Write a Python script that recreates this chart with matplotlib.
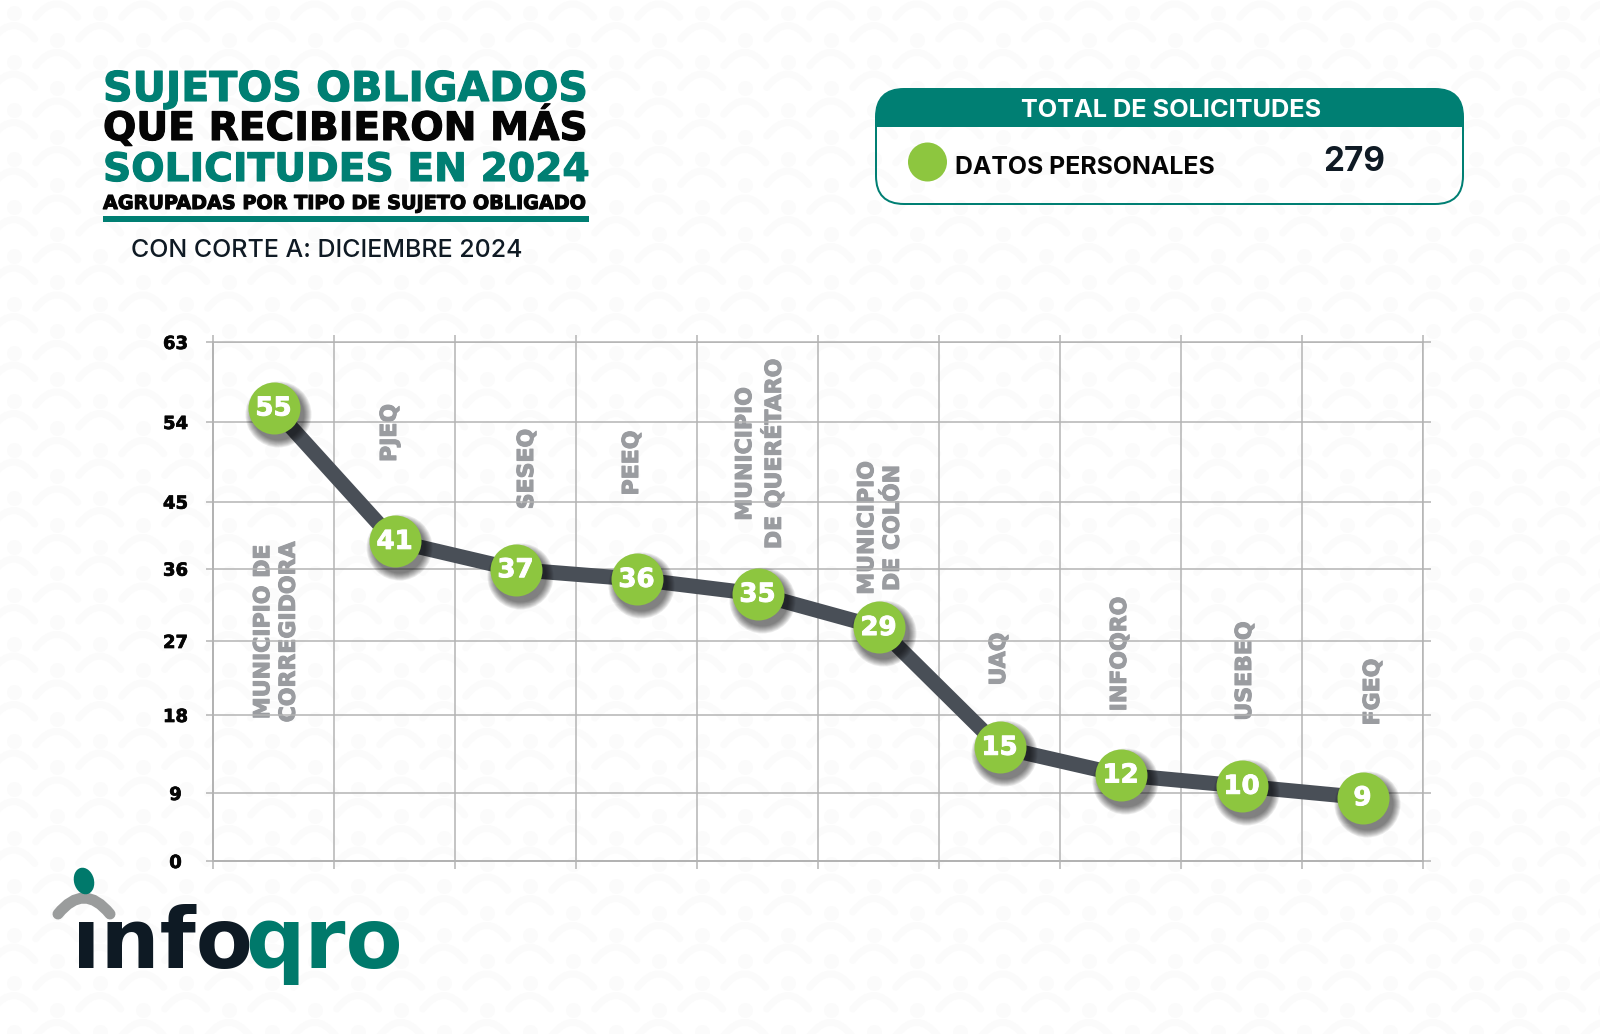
import numpy as np
import matplotlib
matplotlib.use('Agg')
import matplotlib.pyplot as plt
import matplotlib.patheffects as pe
from matplotlib.patches import FancyBboxPatch, Rectangle, Ellipse, PathPatch
from matplotlib.path import Path
from matplotlib.transforms import ScaledTranslation

# datos
categorias = ['MUNICIPIO DE\nCORREGIDORA', 'PJEQ', 'SESEQ', 'PEEQ', 'MUNICIPIO\nDE QUERÉTARO',
              'MUNICIPIO\nDE COLÓN', 'UAQ', 'INFOQRO', 'USEBEQ', 'FGEQ']
valores = [55, 41, 37, 36, 35, 29, 15, 12, 10, 9]
# altura de cada punto leida sobre el eje de la imagen (no coincide del todo con la etiqueta)
alturas = [55.6, 39.7, 35.9, 34.7, 32.85, 28.7, 14.3, 11.1, 9.8, 8.4]
y_ticks = [0, 9, 18, 27, 36, 45, 54, 63]
total = 279

TEAL = '#007f73'
INK = '#0f1a24'
GREEN = '#8dc63f'
LINE = '#494f57'
GRID = '#b3b3b3'
LABEL = '#9a9ca0'
FONT = 'Inter'
BOLD = 'DejaVu Sans'
W, H = 1600, 1034

fig = plt.figure(figsize=(W / 100, H / 100), dpi=100, facecolor='white')
px = 0.72  # puntos por pixel

# capa de fondo en pixeles
bg = fig.add_axes([0, 0, 1, 1], zorder=0)
bg.set_xlim(0, W)
bg.set_ylim(H, 0)
bg.axis('off')

# patron de arcos y puntos
verts, codes, dx, dy = [], [], [], []
for k in range(-1, 39):
    x = 13.7 + 43 * k
    for n in range(-1, 23):
        y = 25 + 48.5 * n - (21.7 if k % 2 else 0)
        verts += [(x - 21, y + 14), (x, y - 13), (x + 21, y + 14)]
        codes += [Path.MOVETO, Path.CURVE3, Path.CURVE3]
        dx.append(x)
        dy.append(y - 12)
bg.add_patch(PathPatch(Path(verts, codes), fc='none', ec='#fbfbfb', lw=7 * px, capstyle='round'))
bg.scatter(dx, dy, s=(15 * px) ** 2, c='#fbfbfb', lw=0)

# titulo
fig.canvas.draw()
rend = fig.canvas.get_renderer()


def ajustar(t, ancho):
    t.set_fontsize(t.get_fontsize() * ancho / t.get_window_extent(rend).width)


for s, col, y, w in [('SUJETOS OBLIGADOS', TEAL, 101, 485),
                     ('QUE RECIBIERON MÁS', '#050505', 140, 485),
                     ('SOLICITUDES EN 2024', TEAL, 181, 487),
                     ('AGRUPADAS POR TIPO DE SUJETO OBLIGADO', '#050505', 209, 483)]:
    t = bg.text(103, y, s, color=col, family=BOLD, weight='bold', fontsize=28)
    ajustar(t, w)
    t.set_path_effects([pe.withStroke(linewidth=0.8, foreground=col)])
bg.add_patch(Rectangle((103, 216), 486, 6, fc=TEAL, ec='none'))
ajustar(bg.text(131, 257, 'CON CORTE A: DICIEMBRE 2024', color=INK, family=FONT, weight='medium', fontsize=16), 391)

# recuadro del total
caja = FancyBboxPatch((876, 89), 587, 115, boxstyle='round,pad=0,rounding_size=28',
                      fc='none', ec=TEAL, lw=2 * px)
bg.add_patch(caja)
banda = Rectangle((876, 89), 587, 37.5, fc=TEAL, ec='none')
bg.add_patch(banda)
banda.set_clip_path(caja)
ajustar(bg.text(1171, 117, 'TOTAL DE SOLICITUDES', color='white', family=FONT, weight='bold',
                fontsize=15, ha='center'), 301)
bg.add_patch(Ellipse((927.5, 162), 39, 39, fc=GREEN, ec='none'))
ajustar(bg.text(955, 174, 'DATOS PERSONALES', color='#050505', family=FONT, weight='bold', fontsize=15), 260)
ajustar(bg.text(1323, 171, str(total), color=INK, family=FONT, weight='bold', fontsize=22), 62)

# logo
bg.text(72, 968, 'ınfo', color='#0e1a24', family='DejaVu Sans', weight='bold', fontsize=83 * px)
bg.text(245, 968, 'qro', color='#00796b', family='DejaVu Sans', weight='bold', fontsize=83 * px)
bg.add_patch(PathPatch(Path([(58, 914), (84, 882), (110, 914)], [Path.MOVETO, Path.CURVE3, Path.CURVE3]),
                       fc='none', ec='#9a9c9c', lw=11 * px, capstyle='round'))
bg.add_patch(Ellipse((84, 881), 20, 27, angle=-15, fc='#00796b', ec='none'))

# grafica
ax = fig.add_axes([213 / W, 1 - 861 / H, 1210 / W, 519 / H], zorder=1)
ax.patch.set_alpha(0)

# el eje de la imagen no es lineal, las lineas guia van desiguales
pos_ticks = np.array([0, 68, 146, 220, 292.3, 359.3, 439, 519]) / 519


def fwd(v):
    return np.interp(v, y_ticks, pos_ticks)


def inv(v):
    return np.interp(v, pos_ticks, y_ticks)


ax.set_yscale('function', functions=(fwd, inv))
ax.set_xlim(0, 10)
ax.set_ylim(0, 63)
ax.set_xticks(range(11))
ax.set_yticks(y_ticks)
ax.minorticks_off()
ax.grid(True, color=GRID, lw=1.5 * px)
ax.set_axisbelow(True)
ax.tick_params(length=7.5 * px, width=1.5 * px, color=GRID, top=True, right=True, labelbottom=False)
ax.tick_params(axis='y', pad=30 * px)
for l in ax.get_yticklabels():
    l.set_ha('center')
    l.set_family(BOLD)
    l.set_weight('bold')
    l.set_fontsize(18 * px)
    l.set_color('#050505')
    l.set_path_effects([pe.withStroke(linewidth=0.5, foreground='#050505')])
for name, sp in ax.spines.items():
    sp.set_color(GRID)
    sp.set_linewidth((2 if name in ('left', 'bottom') else 1.5) * px)

x = np.arange(len(valores)) + 0.5

# sombra y linea
sombra = ax.transData + ScaledTranslation(4 / 100, -6 / 100, fig.dpi_scale_trans)
ax.plot(x, alturas, color=LINE, lw=15 * px, solid_capstyle='butt', zorder=3)
for r in [33, 32, 31, 30, 29, 28, 27, 26]:
    ax.plot(x, alturas, ls='', marker='o', ms=2 * r * px, mfc='black', mec='none', alpha=0.08,
            transform=sombra, zorder=4, clip_on=False)
ax.plot(x, alturas, ls='', marker='o', ms=52 * px, mfc=GREEN, mec='none', zorder=5, clip_on=False)
for xi, yi, v in zip(x, alturas, valores):
    t = ax.annotate(str(v), (xi, yi), xytext=(0, -0.5), textcoords='offset points', ha='center', va='center',
                    color='white', family=BOLD, weight='bold', fontsize=26 * px, zorder=6)
    t.set_path_effects([pe.withStroke(linewidth=0.7, foreground='white')])

# categorias giradas, colocadas donde estan en la imagen
lab_x = [276, 390, 527, 632, 760, 880, 999, 1120, 1245, 1373]
lab_y = [632, 433, 469, 463, 454, 528, 659, 654, 671, 692]
for c, lx, ly in zip(categorias, lab_x, lab_y):
    t = bg.text(lx, ly, c, rotation=90, ha='center', va='center', multialignment='center',
                color=LABEL, family=BOLD, weight='bold', fontsize=22 * px, linespacing=1.35, zorder=3)
    t.set_path_effects([pe.withStroke(linewidth=0.8, foreground=LABEL)])

fig.savefig('out.png', dpi=100, facecolor='white')
